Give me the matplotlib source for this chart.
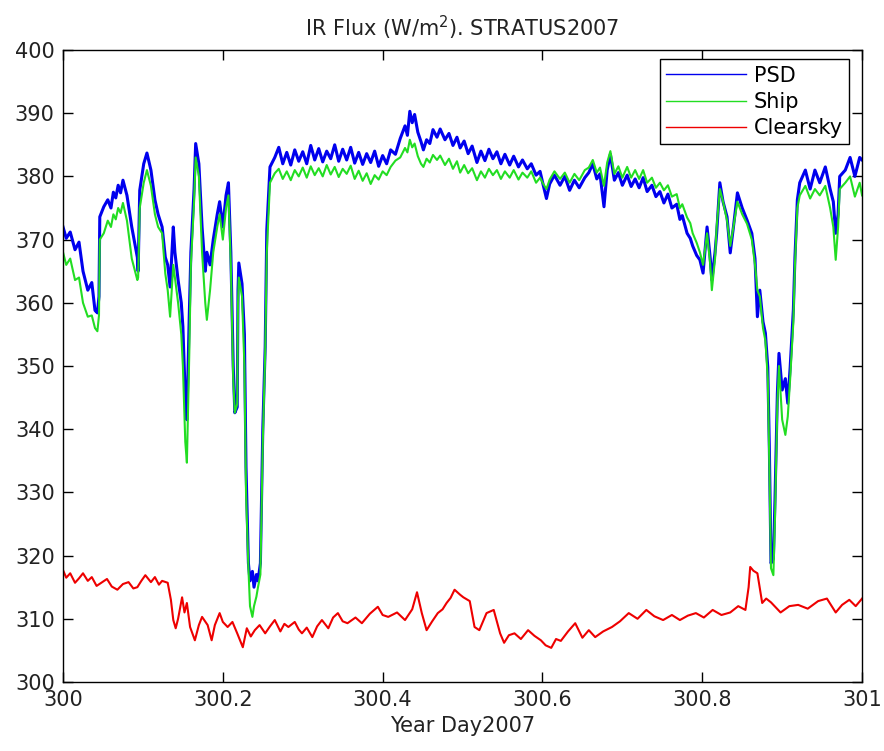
import numpy as np
import matplotlib
matplotlib.use("Agg")
import matplotlib.pyplot as plt

# === Data (time given as day - 300) ===
psd_t = [0.000, 0.004, 0.009, 0.015, 0.020, 0.025, 0.031, 0.036, 0.040, 0.043, 0.045,
         0.046, 0.051, 0.056, 0.060, 0.063, 0.066, 0.069, 0.072, 0.075, 0.080, 0.086, 0.093, 0.094,
         0.096, 0.101, 0.105, 0.110, 0.115, 0.119, 0.124, 0.128, 0.131, 0.134, 0.138, 0.140,
         0.144, 0.148, 0.150, 0.153, 0.155, 0.158, 0.160, 0.164, 0.166, 0.170, 0.174, 0.178,
         0.180, 0.184, 0.188, 0.193, 0.196, 0.200, 0.204, 0.207, 0.210, 0.213, 0.215, 0.218,
         0.219, 0.220, 0.224, 0.227, 0.229, 0.232, 0.234, 0.237, 0.239, 0.242, 0.244, 0.247,
         0.250, 0.253, 0.255, 0.259,
         0.265, 0.270, 0.275, 0.280, 0.285, 0.290, 0.295, 0.300, 0.305, 0.310, 0.315, 0.320,
         0.325, 0.330, 0.335, 0.340, 0.345, 0.350, 0.355, 0.360, 0.365, 0.370, 0.375, 0.380,
         0.385, 0.390, 0.395, 0.400, 0.405, 0.410, 0.416,
         0.422, 0.428, 0.431, 0.434, 0.437, 0.440, 0.444, 0.448, 0.451, 0.455, 0.459, 0.463,
         0.468, 0.472, 0.478, 0.483, 0.488, 0.493, 0.497, 0.502, 0.507, 0.512, 0.518, 0.523,
         0.528, 0.533, 0.538, 0.543, 0.548, 0.553, 0.559, 0.564, 0.570, 0.575, 0.581, 0.586,
         0.592, 0.597, 0.601, 0.605, 0.609,
         0.615, 0.622, 0.628, 0.634, 0.640, 0.646, 0.653, 0.658, 0.663, 0.668, 0.672, 0.677,
         0.681, 0.685, 0.690, 0.695, 0.700, 0.706, 0.711, 0.716, 0.721, 0.726, 0.731, 0.737,
         0.742, 0.747, 0.752, 0.757, 0.762, 0.768, 0.772, 0.775, 0.781, 0.785, 0.788, 0.793,
         0.797, 0.801, 0.806, 0.810, 0.812, 0.816, 0.818, 0.822, 0.826, 0.831, 0.835, 0.839,
         0.844, 0.850, 0.856, 0.862, 0.866, 0.869, 0.872, 0.876, 0.879, 0.882, 0.884, 0.886,
         0.889, 0.891, 0.894, 0.896, 0.900, 0.904, 0.907, 0.910, 0.914, 0.916, 0.919, 0.922,
         0.929, 0.935, 0.941, 0.947, 0.954, 0.960, 0.964, 0.967, 0.970, 0.972, 0.979, 0.985,
         0.991, 0.997, 1.000]

psd = [372.0, 370.2, 371.2, 368.4, 369.6, 365.0, 362.0, 363.2, 358.8, 358.4, 361.0,
       373.6, 375.2, 376.3, 375.0, 377.5, 376.6, 378.6, 377.4, 379.4, 377.0, 372.0, 367.2, 365.0,
       377.8, 382.0, 383.7, 381.0, 376.3, 374.0, 372.0, 367.2, 366.0, 362.5, 372.0, 368.0,
       363.6, 360.0, 356.2, 345.0, 341.5, 358.0, 368.0, 378.0, 385.2, 382.0, 372.0, 365.0,
       368.0, 366.0, 370.0, 374.0, 376.0, 372.0, 377.0, 379.0, 368.0, 350.0, 342.6, 343.5,
       362.0, 366.3, 363.0, 355.0, 334.0, 318.8, 316.0, 317.5, 315.0, 317.0, 316.0, 318.8,
       340.0, 353.0, 371.5, 381.5,
       383.0, 384.6, 382.0, 383.8, 381.8, 384.2, 382.4, 383.9, 382.0, 384.9, 382.6, 384.4,
       382.3, 384.0, 382.8, 385.0, 382.4, 384.3, 382.6, 384.6, 382.1, 383.8, 381.9, 383.6,
       382.2, 384.0, 381.6, 383.3, 382.0, 384.2, 383.5,
       386.0, 388.0, 386.5, 390.3, 388.5, 389.8, 387.0, 385.5, 384.2, 385.8, 385.2, 387.4,
       386.2, 387.5, 385.8, 386.8, 384.9, 386.2, 384.5, 385.6, 383.6, 384.8, 382.2, 384.0,
       382.5, 384.3, 382.8, 383.9, 382.0, 383.5, 381.8, 383.2, 381.5, 382.6, 381.2, 382.0,
       380.2, 380.8, 378.6, 376.5, 378.8,
       380.2, 378.6, 380.0, 377.8, 379.4, 378.2, 379.8, 380.6, 382.0, 379.6, 380.4, 375.2,
       381.0, 383.5, 379.4, 380.6, 378.6, 380.2, 378.4, 379.6, 378.2, 379.8, 377.6, 378.6,
       376.8, 377.6, 375.8, 377.2, 375.0, 375.6, 373.2, 373.8, 371.0, 370.2, 369.0, 367.5,
       366.8, 364.7, 372.0, 367.0, 363.6, 368.0, 371.0, 379.0, 376.0, 373.6, 367.9, 372.0,
       377.4, 375.0, 373.1, 371.0, 367.0, 357.8, 362.0, 357.0, 355.2, 349.8, 336.7, 318.8,
       319.5, 328.8, 345.7, 352.0, 346.2, 348.0, 344.1, 349.8, 358.9, 367.2, 376.3, 379.0,
       381.0, 378.0, 381.0, 379.0, 381.5, 378.0, 376.0, 371.0, 374.0, 380.0, 381.0, 383.0,
       380.0, 383.0, 382.6]

ship = [368.0, 366.0, 367.0, 363.6, 364.0, 360.0, 357.8, 358.0, 356.0, 355.5, 358.0,
        370.0, 371.0, 373.0, 372.0, 374.0, 373.2, 375.0, 374.2, 375.8, 373.0, 367.0, 363.6, 364.0,
        375.0, 379.0, 381.0, 378.5, 374.0, 372.0, 371.0, 364.6, 362.0, 357.8, 366.0, 364.0,
        360.0, 355.0, 350.0, 338.0, 334.7, 352.0, 366.0, 376.0, 383.0, 380.0, 368.0, 360.0,
        357.3, 362.0, 368.0, 372.0, 374.0, 370.0, 375.0, 377.0, 366.0, 348.0, 342.6, 344.0,
        360.0, 364.0, 361.0, 350.0, 330.0, 318.0, 312.0, 310.3, 312.0, 313.5, 315.0, 317.0,
        338.0, 352.0, 368.0, 379.0,
        380.5, 381.2, 379.6, 380.8, 379.4, 381.0, 380.0, 381.4, 379.8, 381.6, 380.2, 381.3,
        380.0, 381.8, 380.3, 381.5, 379.9, 381.2, 380.4, 381.7, 379.6, 380.9, 379.3, 380.5,
        378.8, 380.2, 379.5, 380.8, 380.2, 381.5, 382.5,
        383.0, 384.5, 383.8, 385.8, 384.6, 385.2, 383.2, 382.0, 381.5, 382.8, 382.2, 383.4,
        382.6, 383.3, 381.8, 382.8, 381.2, 382.4, 380.6, 381.8, 380.5, 381.3, 379.4, 380.8,
        379.8, 381.2, 380.2, 381.0, 379.6, 380.8, 379.8, 381.0, 379.5, 380.6, 379.8, 380.8,
        379.0, 379.8, 378.8, 378.0, 379.5,
        380.8, 379.6, 380.6, 379.0, 380.4, 379.4, 381.0, 381.4, 382.6, 380.6, 381.4, 378.5,
        382.2, 384.0, 380.4, 381.6, 379.8, 381.5, 379.8, 381.0, 379.6, 381.0, 379.0, 379.8,
        378.2, 379.0, 377.8, 378.6, 376.8, 377.2, 375.0, 375.6, 373.5, 372.6, 371.0, 369.5,
        368.0, 366.0, 371.0, 366.0, 362.0, 367.0, 372.0, 378.0, 376.0, 373.0, 369.0, 372.0,
        376.0, 374.0, 372.5, 370.0, 366.0, 362.0, 361.0, 356.0, 354.0, 348.0, 334.0, 318.0,
        316.9, 326.0, 344.0, 350.0, 341.5, 339.1, 342.0, 348.0, 357.0, 366.0, 375.0, 377.0,
        378.5, 376.5, 378.0, 377.0, 378.5, 375.0, 372.0, 366.8, 372.0, 378.0, 379.0, 380.0,
        376.8, 379.0, 377.0]

clear_t = [0.000, 0.004, 0.009, 0.015, 0.020, 0.025, 0.031, 0.036, 0.042, 0.049, 0.055,
           0.061, 0.068, 0.075, 0.082, 0.088, 0.093, 0.098, 0.103, 0.110, 0.115, 0.120, 0.124,
           0.131, 0.135, 0.138, 0.141, 0.144, 0.149, 0.152, 0.155, 0.159, 0.165, 0.170, 0.174,
           0.181, 0.186, 0.190, 0.196, 0.200, 0.206, 0.212, 0.218, 0.225, 0.230, 0.235, 0.240,
           0.246, 0.253, 0.259, 0.265, 0.272, 0.277, 0.282, 0.290, 0.295, 0.299, 0.305, 0.312,
           0.318, 0.324, 0.332, 0.338, 0.344, 0.350, 0.356, 0.366, 0.374, 0.384, 0.394, 0.400,
           0.407, 0.418, 0.428, 0.437, 0.443, 0.449, 0.455, 0.462, 0.469, 0.475, 0.480, 0.485,
           0.490, 0.497, 0.501, 0.509, 0.515, 0.521, 0.530, 0.539, 0.547, 0.552, 0.558, 0.565,
           0.573, 0.582, 0.590, 0.598, 0.604, 0.611, 0.617, 0.623, 0.632, 0.641, 0.650, 0.658,
           0.666, 0.676, 0.687, 0.697, 0.708, 0.719, 0.730, 0.740, 0.751, 0.762, 0.772, 0.782,
           0.792, 0.802, 0.813, 0.824, 0.835, 0.845, 0.854, 0.858, 0.860, 0.864, 0.869, 0.875,
           0.880, 0.886, 0.892, 0.898, 0.909, 0.920, 0.932, 0.945, 0.956, 0.967, 0.975, 0.984,
           0.992, 1.000]

clearsky = [317.7, 316.5, 317.2, 315.7, 316.4, 317.2, 316.0, 316.6, 315.2, 315.8, 316.3,
            315.1, 314.6, 315.5, 315.8, 314.8, 315.0, 316.0, 316.9, 315.8, 316.6, 315.4, 316.0,
            315.7, 313.0, 309.8, 308.5, 310.0, 313.4, 311.0, 312.5, 308.7, 306.6, 309.0, 310.3,
            309.0, 306.6, 309.0, 310.9, 309.5, 308.7, 309.5, 307.7, 305.5, 308.5, 307.2, 308.2,
            309.0, 307.7, 308.8, 309.8, 308.0, 309.2, 308.7, 309.5, 308.3, 307.7, 308.6, 307.1,
            308.8, 309.8, 308.5, 310.2, 310.9, 309.6, 309.3, 310.2, 309.3, 310.8, 311.9, 310.6,
            310.3, 311.0, 309.8, 311.5, 314.2, 310.9, 308.2, 309.6, 310.9, 311.5, 312.5, 313.3,
            314.6, 313.8, 313.4, 312.8, 308.7, 308.2, 310.9, 311.4, 307.7, 306.2, 307.4, 307.7,
            306.8, 308.2, 307.3, 306.6, 305.8, 305.4, 306.8, 306.5, 308.0, 309.3, 307.0, 308.2,
            307.1, 308.0, 308.7, 309.6, 310.9, 310.0, 311.4, 310.4, 309.8, 310.6, 309.8, 310.5,
            310.9, 310.2, 311.4, 310.6, 311.0, 312.0, 311.4, 315.0, 318.2, 317.6, 317.2, 312.5,
            313.2, 312.6, 311.8, 311.0, 312.0, 312.2, 311.6, 312.8, 313.2, 311.0, 312.2, 313.0,
            312.0, 313.2]

x_ticks = [300, 300.2, 300.4, 300.6, 300.8, 301]
x_tick_labels = ["300", "300.2", "300.4", "300.6", "300.8", "301"]
y_ticks = list(range(300, 401, 10))

# === Figure ===
plt.rcParams['font.family'] = ['DejaVu Sans']
fig = plt.figure(figsize=(8.84, 7.51), dpi=100)
ax = fig.add_axes([0.0713, 0.0919, 0.9039, 0.8415])

psd_day = 300 + np.array(psd_t)
clear_day = 300 + np.array(clear_t)

# thicker lines stand in for the high-frequency noise band of the original
ax.plot(psd_day, psd, color="#0000ee", lw=2.2, label="PSD")
ax.plot(psd_day, ship, color="#22dd22", lw=1.5, label="Ship")
ax.plot(clear_day, clearsky, color="#ee0000", lw=1.5, label="Clearsky")

ax.set_xlim(300, 301)
ax.set_ylim(300, 400)
ax.set_xticks(x_ticks)
ax.set_xticklabels(x_tick_labels)
ax.set_yticks(y_ticks)
ax.tick_params(direction="in", length=7, width=1, top=True, right=True,
               labelsize=15, labelcolor="#222222", pad=6)
for s in ax.spines.values():
    s.set_linewidth(1.0)

ax.set_title("IR Flux (W/m$^2$). STRATUS2007", fontsize=15, color="#222222", pad=10)
ax.set_xlabel("Year Day2007", fontsize=15, color="#222222", labelpad=4)

leg = ax.legend(loc="upper right", bbox_to_anchor=(0.984, 0.985), fontsize=15,
                frameon=True, fancybox=False, framealpha=1, edgecolor="black",
                handlelength=3.8, labelspacing=0.3, borderpad=0.3, handletextpad=0.4,
                borderaxespad=0)
leg.get_frame().set_linewidth(1.0)
for line in leg.get_lines():
    line.set_linewidth(1.0)

fig.savefig("out.png", dpi=100)
